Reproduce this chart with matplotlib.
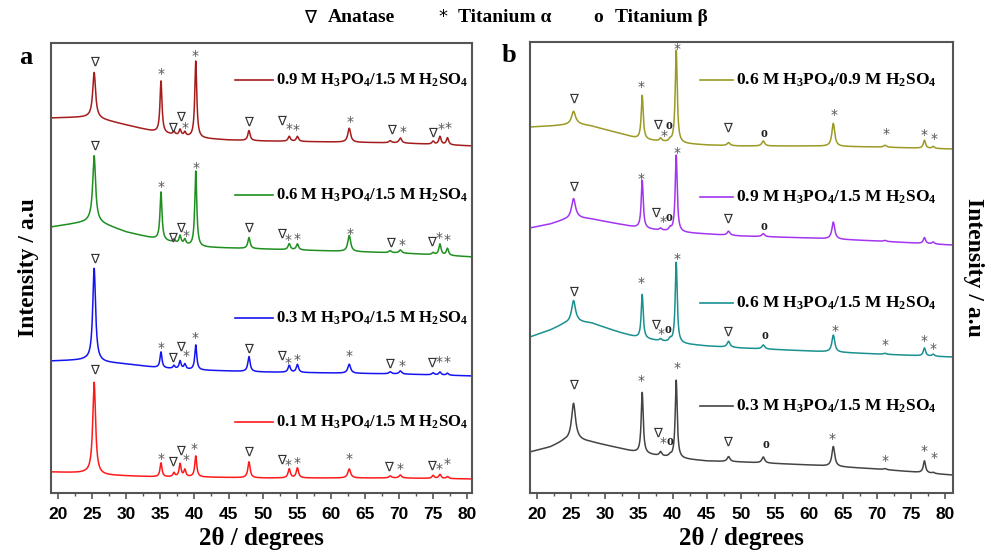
import numpy as np
import matplotlib
matplotlib.use("Agg")
import matplotlib.pyplot as plt
from matplotlib.ticker import MultipleLocator

plt.rcParams["font.family"] = ["Liberation Serif", "DejaVu Serif"]
plt.rcParams["font.weight"] = "bold"
plt.rcParams["mathtext.fontset"] = "custom"
plt.rcParams["mathtext.rm"] = "Liberation Serif:bold"
plt.rcParams["mathtext.it"] = "Liberation Serif:bold"
plt.rcParams["mathtext.bf"] = "Liberation Serif:bold"
plt.rcParams["mathtext.default"] = "rm"

# --- Panel a: peak positions (2theta) shared by all four samples ---
peaks_a = [25.3, 35.1, 37.0, 37.9, 38.6, 40.2, 48.0, 53.9, 55.1, 62.7, 68.7, 70.2, 75.0, 76.0, 77.1]
widths_a = [0.5, 0.35, 0.35, 0.35, 0.35, 0.35, 0.4, 0.4, 0.4, 0.5, 0.45, 0.45, 0.4, 0.4, 0.4]

labels_a = ["0.9 M H$_3$PO$_4$/1.5 M H$_2$SO$_4$",
            "0.6 M H$_3$PO$_4$/1.5 M H$_2$SO$_4$",
            "0.3 M H$_3$PO$_4$/1.5 M H$_2$SO$_4$",
            "0.1 M H$_3$PO$_4$/1.5 M H$_2$SO$_4$"]
colors_a = ["#a51c1c", "#1f8f1f", "#1414f0", "#ff1a1a"]

bg_x_a = [
    [19, 25, 30, 35, 40, 45, 50, 60, 70, 81],
    [19, 24, 25, 30, 35, 40, 45, 50, 55, 60, 70, 81],
    [19, 24, 26, 30, 35, 40, 45, 50, 60, 70, 81],
    [19, 24, 26, 35, 40, 50, 60, 70, 81],
]
bg_y_a = [
    [375, 376, 368, 360, 355, 353, 352, 351, 350, 347],
    [266, 271, 273, 261, 253, 246, 245, 244, 243, 242, 240, 236],
    [132, 133, 131, 129, 125, 123, 122, 121, 120, 119, 117],
    [21, 20, 18, 16, 16, 15, 15, 15, 14],
]
heights_a = [
    [45, 52, 3, 6, 4, 77, 10, 5, 5, 14, 2, 5, 3, 8, 7],
    [65, 48, 3, 8, 5, 76, 11, 6, 6, 16, 2, 3, 2, 11, 7],
    [93, 16, 3, 8, 5, 25, 15, 7, 8, 9, 2, 3, 2, 3, 2],
    [92, 14, 4, 13, 7, 21, 16, 9, 10, 9, 2, 3, 3, 4, 2],
]

# phase marks: (symbol, 2theta, height)
marks_a = [
    [("v", 25.3, 431), ("*", 35.1, 421), ("v", 36.8, 365), ("v", 37.9, 376), ("*", 38.7, 367),
     ("*", 40.1, 439), ("v", 47.9, 371), ("v", 52.8, 372), ("*", 53.9, 366), ("*", 54.9, 365),
     ("*", 62.8, 373), ("v", 68.9, 363), ("*", 70.6, 363), ("v", 74.9, 360), ("*", 76.1, 366),
     ("*", 77.2, 367)],
    [("v", 25.4, 347), ("*", 35.1, 308), ("v", 36.8, 255), ("v", 37.9, 265), ("*", 38.8, 259),
     ("*", 40.2, 327), ("v", 47.9, 265), ("v", 52.8, 259), ("*", 53.8, 255), ("*", 55.0, 256),
     ("*", 62.8, 261), ("v", 68.8, 250), ("*", 70.5, 250), ("v", 74.8, 251), ("*", 75.9, 257),
     ("*", 77.1, 255)],
    [("v", 25.3, 234), ("*", 35.1, 147), ("v", 36.8, 135), ("v", 37.9, 146), ("*", 38.8, 139),
     ("*", 40.1, 157), ("v", 47.9, 144), ("v", 52.8, 137), ("*", 53.8, 132), ("*", 55.0, 135),
     ("*", 62.7, 139), ("v", 68.6, 129), ("*", 70.4, 129), ("v", 74.8, 130), ("*", 75.9, 133),
     ("*", 77.0, 133)],
    [("v", 25.3, 123), ("*", 35.1, 36), ("v", 36.8, 31), ("v", 37.9, 42), ("*", 38.8, 35),
     ("*", 40.0, 46), ("v", 47.9, 41), ("v", 52.8, 33), ("*", 53.8, 30), ("*", 55.0, 32),
     ("*", 62.7, 36), ("v", 68.4, 26), ("*", 70.2, 26), ("v", 74.8, 27), ("*", 75.9, 26),
     ("*", 77.0, 31)],
]
legend_y_a = [413, 298, 175, 71]

# --- Panel b ---
peaks_b = [25.4, 35.5, 38.2, 39.6, 40.5, 48.2, 53.3, 63.6, 71.2, 77.0, 78.3]
widths_b = [0.7, 0.35, 0.4, 0.4, 0.35, 0.5, 0.5, 0.5, 0.5, 0.4, 0.4]

labels_b = ["0.6 M H$_3$PO$_4$/0.9 M H$_2$SO$_4$",
            "0.9 M H$_3$PO$_4$/1.5 M H$_2$SO$_4$",
            "0.6 M H$_3$PO$_4$/1.5 M H$_2$SO$_4$",
            "0.3 M H$_3$PO$_4$/1.5 M H$_2$SO$_4$"]
colors_b = ["#9b9a24", "#a335f0", "#1a9090", "#444444"]

bg_x_b = [19, 22, 24, 26, 28, 32, 35, 40, 45, 50, 60, 70, 81]
bg_y_b = [
    [366, 367, 368, 369, 367, 360, 354, 350, 348, 347, 347, 346, 344],
    [265, 269, 273, 275, 274, 269, 265, 261, 259, 257, 255, 252, 248],
    [156, 163, 169, 171, 170, 161, 155, 150, 147, 145, 142, 139, 136],
    [41, 46, 52, 53, 51, 45, 40, 35, 32, 31, 28, 24, 18],
]
heights_b = [
    [13, 44, 3, 2, 93, 3, 5, 23, 2, 8, 2],
    [20, 48, 2, 3, 77, 4, 3, 17, 1, 6, 2],
    [22, 44, 2, 3, 81, 6, 4, 17, 1, 8, 2],
    [37, 61, 4, 2, 78, 5, 6, 20, 1, 12, 1],
]
marks_b = [
    [("v", 25.4, 394), ("*", 35.4, 408), ("v", 37.8, 368), ("o", 39.4, 368), ("*", 38.7, 359),
     ("*", 40.6, 446), ("v", 48.1, 365), ("o", 53.4, 360), ("*", 63.7, 380), ("*", 71.3, 361),
     ("*", 76.9, 360), ("*", 78.4, 356)],
    [("v", 25.4, 306), ("*", 35.4, 316), ("v", 37.5, 280), ("*", 38.5, 273), ("o", 39.5, 276),
     ("*", 40.6, 342), ("v", 48.1, 274), ("o", 53.4, 267)],
    [("v", 25.4, 201), ("*", 35.4, 212), ("v", 37.4, 168), ("*", 38.3, 161), ("o", 39.3, 164),
     ("*", 40.6, 236), ("v", 48.1, 161), ("o", 53.6, 158), ("*", 63.8, 164), ("*", 71.2, 150),
     ("*", 76.9, 154), ("*", 78.2, 146)],
    [("v", 25.4, 108), ("*", 35.4, 114), ("v", 37.7, 60), ("*", 38.6, 52), ("o", 39.6, 51),
     ("*", 40.6, 127), ("v", 48.1, 51), ("o", 53.7, 48), ("*", 63.4, 56), ("*", 71.2, 34),
     ("*", 76.9, 44), ("*", 78.4, 37)],
]
legend_y_b = [413, 296, 190, 87]

tt = np.linspace(19, 81.5, 4000)


def pattern(bx, by, pos, hts, wid):
    y = np.interp(tt, bx, by)
    for c, h, w in zip(pos, hts, wid):
        y = y + h / (1 + ((tt - c) / (w / 2)) ** 2)
    return y


def draw_mark(ax, sym, x, y):
    if sym == "v":
        ax.text(x, y, "\u2207", ha="center", va="center", fontsize=9.5,
                family="DejaVu Sans", weight="normal", color="#333333")
    elif sym == "*":
        ax.text(x, y - 2, "*", ha="center", va="center", fontsize=10,
                family="DejaVu Sans", weight="normal", color="#555555")
    else:
        ax.text(x, y, "o", ha="center", va="center", fontsize=10,
                family="Liberation Serif", weight="bold", color="#222222")


def style_axis(ax, xlim, ylim):
    ax.set_xlim(*xlim)
    ax.set_ylim(*ylim)
    ax.set_yticks([])
    ax.xaxis.set_major_locator(MultipleLocator(5))
    ax.xaxis.set_minor_locator(MultipleLocator(2.5))
    ax.tick_params(axis="x", which="major", direction="out", length=4, width=1.2,
                   color="#555555", pad=6)
    ax.tick_params(axis="x", which="minor", direction="out", length=2.5, width=1.0,
                   color="#555555")
    for lab in ax.get_xticklabels():
        lab.set_family("Liberation Sans")
        lab.set_fontweight("bold")
        lab.set_fontsize(12.5)
    for sp in ax.spines.values():
        sp.set_color("#555555")
        sp.set_linewidth(1.5)
    ax.set_xlabel("2\u03b8 / degrees", fontsize=18, fontweight="bold", labelpad=4)


fig = plt.figure(figsize=(10, 5.58), dpi=100)
ax_a = fig.add_axes([0.0505, 0.1165, 0.4215, 0.8065])
ax_b = fig.add_axes([0.530, 0.1165, 0.423, 0.8082])

for i in range(4):
    y = pattern(bg_x_a[i], bg_y_a[i], peaks_a, heights_a[i], widths_a)
    ax_a.plot(tt, y, color=colors_a[i], lw=1.1)
    ax_a.plot([45.95, 51.5], [legend_y_a[i]] * 2, color=colors_a[i], lw=1.2)
    ax_a.text(52.0, legend_y_a[i], labels_a[i], ha="left", va="center",
              fontsize=12, fontweight="bold")
    for sym, x, yy in marks_a[i]:
        draw_mark(ax_a, sym, x, yy)

for i in range(4):
    y = pattern(bg_x_b, bg_y_b[i], peaks_b, heights_b[i], widths_b)
    ax_b.plot(tt, y, color=colors_b[i], lw=1.1)
    ax_b.plot([44.0, 48.9], [legend_y_b[i]] * 2, color=colors_b[i], lw=1.2)
    ax_b.text(49.3, legend_y_b[i], labels_b[i], ha="left", va="center",
              fontsize=12.5, fontweight="bold")
    for sym, x, yy in marks_b[i]:
        draw_mark(ax_b, sym, x, yy)

style_axis(ax_a, (18.9, 80.7), (0, 450))
style_axis(ax_b, (19.0, 81.2), (0, 451))

ax_a.set_ylabel("Intensity / a.u", fontsize=17, fontweight="bold", labelpad=8)
ax_b.yaxis.set_label_position("right")
ax_b.set_ylabel("Intensity / a.u", fontsize=17, fontweight="bold", rotation=270,
                labelpad=22)

fig.text(0.026, 1 - 57 / 558, "a", fontsize=19, fontweight="bold", ha="center", va="center")
fig.text(0.509, 1 - 55 / 558, "b", fontsize=19, fontweight="bold", ha="center", va="center")

# phase key at the top
ky = 1 - 17 / 558
fig.text(0.310, ky, "\u2207", fontsize=13, family="DejaVu Sans", weight="normal",
         ha="center", va="center")
fig.text(0.328, ky, "Anatase", fontsize=14, fontweight="bold", ha="left", va="center")
fig.text(0.443, ky, "*", fontsize=13, family="DejaVu Sans", weight="normal",
         ha="center", va="center")
fig.text(0.458, ky, "Titanium \u03b1", fontsize=14, fontweight="bold", ha="left", va="center")
fig.text(0.598, ky, "o", fontsize=14, fontweight="bold", ha="center", va="center")
fig.text(0.615, ky, "Titanium \u03b2", fontsize=14, fontweight="bold", ha="left", va="center")

fig.savefig("out.png", dpi=100)
